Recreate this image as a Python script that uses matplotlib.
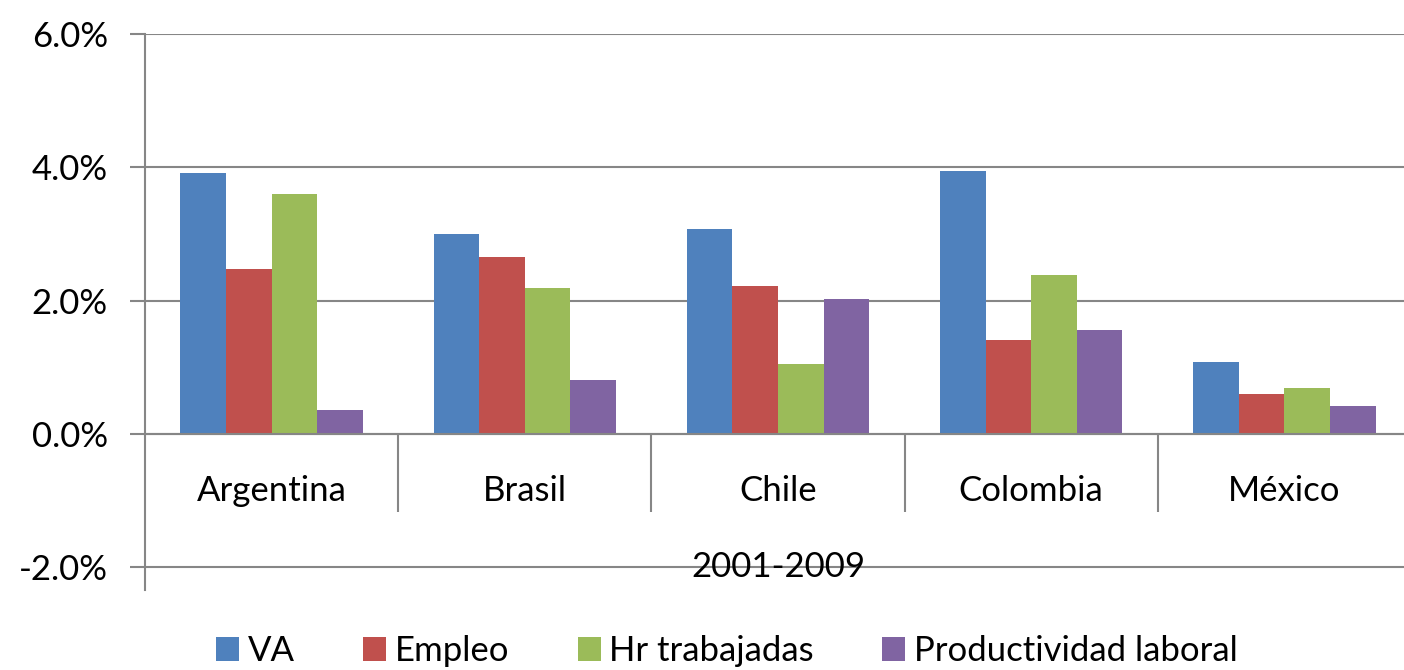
import matplotlib
matplotlib.use("Agg")
import matplotlib.pyplot as plt
import numpy as np

plt.rcParams['font.family'] = ['Lato', 'DejaVu Sans']

categories = ["Argentina", "Brasil", "Chile", "Colombia", "México"]
series_names = ["VA", "Empleo", "Hr trabajadas", "Productividad laboral"]
va = [3.91, 3.00, 3.07, 3.94, 1.07]
empleo = [2.47, 2.65, 2.22, 1.41, 0.60]
hr_trabajadas = [3.60, 2.19, 1.04, 2.38, 0.69]
productividad = [0.35, 0.81, 2.03, 1.56, 0.41]
y_ticks = [-2.0, 0.0, 2.0, 4.0, 6.0]
period_label = "2001-2009"

colors = ["#4F81BD", "#C0504D", "#9BBB59", "#8064A2"]
grid_color = "#868686"
FS = 25

fig = plt.figure(figsize=(14.04, 6.70), dpi=100)
ax = fig.add_axes([145/1404, 1-590/670, (1411-145)/1404, (590-34)/670])

x = np.arange(len(categories))
w = 0.18
all_series = [va, empleo, hr_trabajadas, productividad]
for i, (vals, name, c) in enumerate(zip(all_series, series_names, colors)):
    ax.bar(x + (i - 1.5) * w, vals, width=w, color=c, label=name, zorder=3, linewidth=0)

ax.set_xlim(-0.5, len(categories) - 0.5)
ax.set_ylim(-2 - 23/66.8, 6)
ax.set_yticks(y_ticks)
ax.set_yticklabels([f"{v:.1f}%" for v in y_ticks])
for v in y_ticks:
    ax.axhline(v, color=grid_color, lw=1.5, zorder=1)

for s in ["top", "right"]:
    ax.spines[s].set_visible(False)
ax.spines["left"].set_color(grid_color)
ax.spines["left"].set_linewidth(1.5)
ax.spines["bottom"].set_position(('data', 0))
ax.spines["bottom"].set_color(grid_color)
ax.spines["bottom"].set_linewidth(1.5)
ax.spines["bottom"].set_zorder(4)

ax.tick_params(axis='y', length=10.8, width=1.5, color=grid_color, labelsize=FS, pad=16, labelcolor='black')
ax.set_xticks(x)
ax.set_xticklabels(categories)
ax.tick_params(axis='x', which='major', length=0, labelsize=FS, pad=30)
ax.set_xticks(np.arange(0.5, len(categories) - 1, 1.0), minor=True)
ax.tick_params(axis='x', which='minor', length=56, width=1.5, color=grid_color, direction='out')

ax.text(2.0, -2, period_label, ha='center', va='center', fontsize=FS, zorder=5)

leg = fig.legend(loc='center', bbox_to_anchor=(727/1404, 1-651/670), ncol=4, frameon=False,
                 fontsize=FS, handlelength=0.66, handleheight=0.66, handletextpad=0.25,
                 columnspacing=1.97, borderpad=0, borderaxespad=0)

fig.savefig("out.png", dpi=100)
